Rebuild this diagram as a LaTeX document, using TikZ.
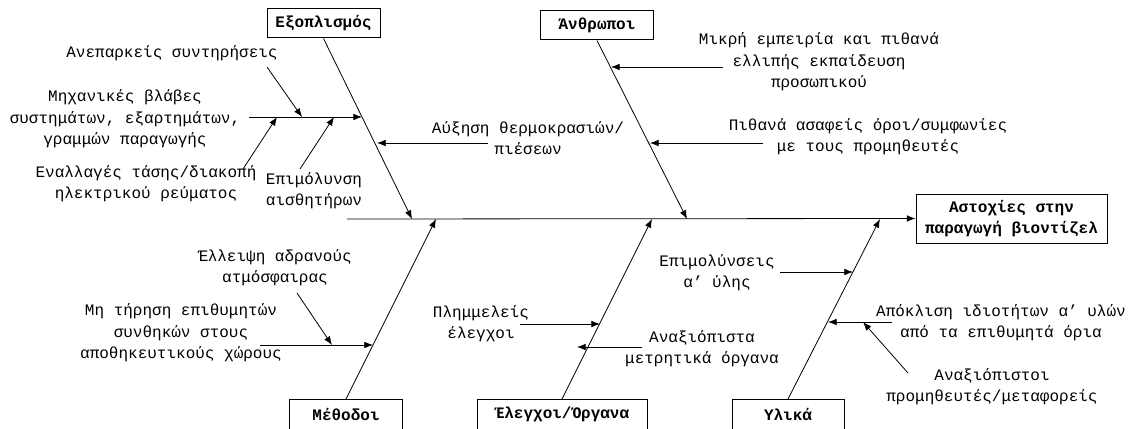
\documentclass[tikz,border=0pt]{standalone}
\usepackage{fontspec}
\setmonofont{Liberation Mono}
\usetikzlibrary{arrows.meta}
\definecolor{fbline}{HTML}{000000}

\begin{document}
\begin{tikzpicture}[x=0.75pt, y=-0.75pt,
  catbox/.style={draw=fbline, line width=0.75pt, minimum width=84.75pt, minimum height=21.75pt, inner sep=1pt, font=\ttfamily\bfseries\fontsize{12}{16}\selectfont},
  cause/.style={align=center, inner sep=0pt, font=\ttfamily\fontsize{12}{16}\selectfont},
  fbarrow/.style={draw=fbline, line width=0.6pt, -{Latex[length=6.5pt, width=5pt]}}]
  \useasboundingbox (0,0) rectangle (1134,428);
  \node[catbox] (eq) at (323.5,23.5) {Εξοπλισμός};
  \node[catbox] (an) at (597,25.5) {Άνθρωποι};
  \node[catbox, anchor=north, minimum height=22.5pt] (me) at (346,399) {Μέθοδοι};
  \node[catbox, anchor=north, minimum height=22.5pt, minimum width=127.5pt] (el) at (562,399) {Έλεγχοι/Όργανα};
  \node[catbox, anchor=north, minimum height=22.5pt, minimum width=84pt] (yl) at (788,399) {Υλικά};
  \node[catbox, align=center, minimum width=143.25pt, minimum height=36.75pt] (ef) at (1011.5,218.5) {Αστοχίες στην\\παραγωγή βιοντίζελ};

  \node[cause] (anep) at (172,53) {Ανεπαρκείς συντηρήσεις};
  \node[cause] (mhx) at (125,119) {Μηχανικές βλάβες\\συστημάτων, εξαρτημάτων,\\γραμμών παραγωγής};
  \node[cause] (enal) at (146,184) {Εναλλαγές τάσης/διακοπή\\ηλεκτρικού ρεύματος};
  \node[cause] (aisth) at (314,191) {Επιμόλυνση\\αισθητήρων};
  \node[cause] (thermo) at (528,138) {Αύξηση θερμοκρασιών/\\πιέσεων};
  \node[cause] (empeir) at (819,62) {Μικρή εμπειρία και πιθανά\\ελλιπής εκπαίδευση\\προσωπικού};
  \node[cause] (oroi) at (868,137) {Πιθανά ασαφείς όροι/συμφωνίες\\με τους προμηθευτές};
  \node[cause] (adran) at (275,268) {Έλλειψη αδρανούς\\ατμόσφαιρας};
  \node[cause] (apoth) at (181,333) {Μη τήρηση επιθυμητών\\συνθηκών στους\\αποθηκευτικούς χώρους};
  \node[cause] (plhm) at (481,324) {Πλημμελείς\\έλεγχοι};
  \node[cause] (metr) at (702,349) {Αναξιόπιστα\\μετρητικά όργανα};
  \node[cause] (epim) at (717,273) {Επιμολύνσεις\\α’ ύλης};
  \node[cause] (apokl) at (1001,323) {Απόκλιση ιδιοτήτων α’ υλών\\από τα επιθυμητά όρια};
  \node[cause] (prom) at (992,387) {Αναξιόπιστοι\\προμηθευτές/μεταφορείς};

  \coordinate (sp) at (347,219);
  \coordinate (tEq) at (412,219);
  \coordinate (tAn) at (687,219);
  \coordinate (tMe) at (436,219);
  \coordinate (tEl) at (652,219);
  \coordinate (tYl) at (880,219);
  \draw[fbarrow] (sp) -- (ef.west);
  \draw[fbarrow] (eq.south) -- (tEq);
  \draw[fbarrow] (an.south) -- (tAn);
  \draw[fbarrow] (me.north) -- (tMe);
  \draw[fbarrow] (el.north) -- (tEl);
  \draw[fbarrow] (yl.north) -- (tYl);

  \coordinate (mhx0) at (249,117);
  \coordinate (mhx1) at (362,117);
  \draw[fbarrow] (mhx0) -- (mhx1);
  \coordinate (anep0) at (267,67);
  \coordinate (anep1) at (302,117);
  \draw[fbarrow] (anep0) -- (anep1);
  \coordinate (enal0) at (243,169);
  \coordinate (enal1) at (277,117);
  \draw[fbarrow] (enal0) -- (enal1);
  \coordinate (aisth0) at (300,169);
  \coordinate (aisth1) at (334,117);
  \draw[fbarrow] (aisth0) -- (aisth1);
  \coordinate (thermo0) at (488,143);
  \coordinate (thermo1) at (377,143);
  \draw[fbarrow] (thermo0) -- (thermo1);

  \coordinate (empeir0) at (723,67);
  \coordinate (empeir1) at (611,67);
  \draw[fbarrow] (empeir0) -- (empeir1);
  \coordinate (oroi0) at (763,143);
  \coordinate (oroi1) at (650,143);
  \draw[fbarrow] (oroi0) -- (oroi1);

  \coordinate (apoth0) at (260,345);
  \coordinate (apoth1) at (373,345);
  \draw[fbarrow] (apoth0) -- (apoth1);
  \coordinate (adran0) at (297,293);
  \coordinate (adran1) at (332,345);
  \draw[fbarrow] (adran0) -- (adran1);

  \coordinate (plhm0) at (520,324);
  \coordinate (plhm1) at (600,324);
  \draw[fbarrow] (plhm0) -- (plhm1);
  \coordinate (metr0) at (642,347);
  \coordinate (metr1) at (577,347);
  \draw[fbarrow] (metr0) -- (metr1);

  \coordinate (epim0) at (780,272);
  \coordinate (epim1) at (853,272);
  \draw[fbarrow] (epim0) -- (epim1);
  \coordinate (apokl0) at (892,322);
  \coordinate (apokl1) at (828,322);
  \draw[fbarrow] (apokl0) -- (apokl1);
  \coordinate (prom0) at (908,373);
  \coordinate (prom1) at (863,322);
  \draw[fbarrow] (prom0) -- (prom1);
\end{tikzpicture}
\end{document}
